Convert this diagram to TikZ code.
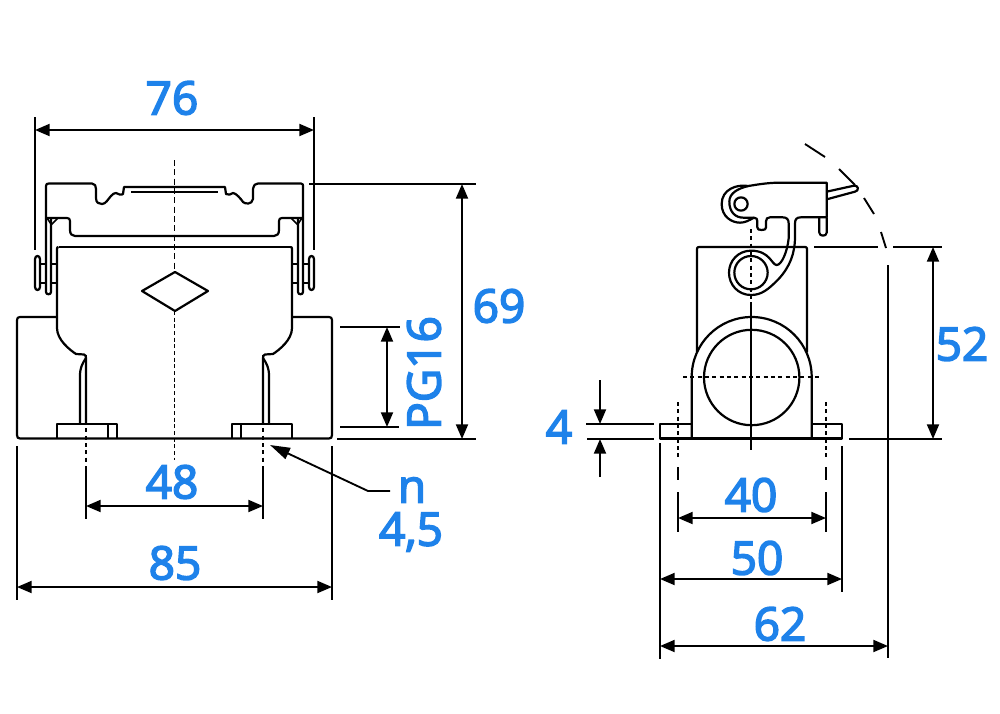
\documentclass[tikz,border=0pt]{standalone}
\usepackage{fontspec}
\setmainfont{Open Sans}[FakeBold=3.6]
\usetikzlibrary{arrows.meta}
\definecolor{dimblue}{HTML}{1E82EA}
\tikzset{
  x=0.75pt,y=-0.75pt,
  part/.style={line width=1.65pt,line join=round,black},
  thin part/.style={line width=1.2pt,black},
  cdash/.style={line width=1.1pt,dash pattern=on 4.5pt off 2.5pt},
  fdash/.style={line width=1.4pt,dash pattern=on 3pt off 2.5pt},
  ext/.style={line width=1.4pt},
  dimline/.style={line width=1.4pt,{Triangle[length=11pt,width=9pt]}-{Triangle[length=11pt,width=9pt]}},
  dimone/.style={line width=1.4pt,-{Triangle[length=11pt,width=9pt]}},
  leader/.style={line width=1.4pt,-{Triangle[length=15pt,width=9pt]}},
  lbl/.style={text=dimblue,font=\fontsize{34.5pt}{36pt}\selectfont,inner sep=0pt},
}
\begin{document}
\begin{tikzpicture}
\useasboundingbox (0,0) rectangle (1000,714);
% ---------- left view ----------
% lid top
\draw[part] (46,218) -- (46,186)
  .. controls (46,184) and (47,183.5) .. (49,183.5) -- (92,183.5)
  .. controls (95,183.5) and (96,186) .. (96,189) -- (96,198)
  .. controls (96,203) and (99,204) .. (102,204)
  .. controls (106,204) and (108,199) .. (111,196)
  .. controls (113,194) and (114,193) .. (116,193)
  .. controls (118,195) and (122,195) .. (123,194)
  -- (124,187) -- (225,187) -- (226,194)
  .. controls (228,195) and (231,195) .. (233,193)
  .. controls (236,193) and (241,199) .. (243,202)
  .. controls (245,204) and (252,205) .. (253,199) -- (253,189)
  .. controls (254,185) and (255,183.5) .. (258,183.5) -- (301,183.5)
  .. controls (303,183.5) and (303,185) .. (303,186) -- (303,218);
\draw[part] (131,192) -- (218,192);
% lid bottom
\draw[part] (46,218) -- (67,218) .. controls (69,218) and (70,219) .. (70,221) -- (70,230)
  .. controls (70,234) and (72,236) .. (75,236) -- (274,236)
  .. controls (277,236) and (279,234) .. (279,230) -- (279,221)
  .. controls (279,219) and (280,218) .. (282,218) -- (303,218);
% hinge arms
\draw[part] (46,218) -- (46,292) .. controls (46,295) and (51,295) .. (51,292) -- (51,218);
\draw[part] (303,218) -- (303,292) .. controls (303,295) and (298,295) .. (298,292) -- (298,218);
\draw[thin part] (51,225) -- (58,218) (47,218) -- (51,224);
\draw[thin part] (298,225) -- (291,218) (302,218) -- (298,224);
% pins
\draw[part] (35,259) .. controls (35,255) and (40,255) .. (40,259) -- (40,287) .. controls (40,291) and (35,291) .. (35,287) -- cycle;
\draw[part] (309,259) .. controls (309,255) and (314,255) .. (314,259) -- (314,287) .. controls (314,291) and (309,291) .. (309,287) -- cycle;
\draw[part] (40,264) -- (46,264) (40,283) -- (46,283) (51,264) -- (57,264) (51,283) -- (57,283);
\draw[part] (303,264) -- (309,264) (303,283) -- (309,283) (292,264) -- (298,264) (292,283) -- (298,283);
% body and flange
\draw[part] (17,320) .. controls (17,318) and (18,317) .. (20,317) -- (57,317);
\draw[part] (292,317) -- (329,317) .. controls (331,317) and (332,318) .. (332,320) -- (332,435)
  .. controls (332,437.5) and (331,438.5) .. (329,438.5) -- (20,438.5)
  .. controls (18,438.5) and (17,437.5) .. (17,435) -- (17,320);
\draw[part] (58.5,247) -- (290.5,247);
\draw[part] (58.5,247) .. controls (57.5,247) and (57,247.5) .. (57,249) -- (57,328)
  .. controls (57,340) and (70,350) .. (76,354) -- (84,354.5) .. controls (85.5,355) and (86,356) .. (86,358) -- (86,424);
\draw[part] (290.5,247) .. controls (291.5,247) and (292,247.5) .. (292,249) -- (292,328)
  .. controls (292,340) and (279,350) .. (273,354) -- (265,354.5) .. controls (263.5,355) and (263,356) .. (263,358) -- (263,424);
\draw[part] (86,358) .. controls (82,364) and (80,368) .. (80,376) -- (80,424);
\draw[part] (263,358) .. controls (267,364) and (269,368) .. (269,376) -- (269,424);
% feet
\draw[part] (57,438.5) -- (57,424) -- (117,424) -- (117,438.5) (108,424) -- (108,438.5);
\draw[part] (292,438.5) -- (292,424) -- (232,424) -- (232,438.5) (241,424) -- (241,438.5);
% diamond
\draw[part] (175,272) -- (208,291) -- (175,311) -- (142,291) -- cycle;
% center lines
\draw[cdash] (174.5,160) -- (174.5,272);
\draw[cdash,dash pattern=on 3pt off 2pt] (174.5,311) -- (174.5,460);
\draw[fdash] (86,355) -- (86,463) (263,355) -- (263,463);
% ---------- right view ----------
\draw[part] (697,352) -- (697,249) .. controls (697,247.5) and (697.5,247) .. (699,247) -- (805,247)
  .. controls (806.5,247) and (807,247.5) .. (807,249) -- (807,352);
\draw[part] (691.7,438.5) -- (691.7,377) arc[start angle=180,end angle=360,radius=60] -- (811.7,438.5);
\draw[part] (751.7,377.5) circle[radius=47.7];
\draw[part] (660,424) rectangle (691.7,438.5) (811.7,424) rectangle (842,438.5);
\draw[part] (660,438.5) -- (842,438.5);
\draw[ext] (751,306) -- (751,450);
\draw[fdash] (751,229) -- (751,306);
\draw[fdash] (683,377) -- (820,377);
\draw[fdash] (678,402) -- (678,458) (826,402) -- (826,458);
\draw[ext] (678,467) -- (678,480) (826,467) -- (826,480);
% hook, drawn at 3x in a local frame
\begin{scope}[shift={(680,130)},x=0.25pt,y=-0.25pt]
  \draw[part] (205,168) .. controls (172,176) and (148,190) .. (148,215)
     .. controls (148,245) and (165,263) .. (190,263) -- (222,263)
     .. controls (230,263) and (232,268) .. (232,274) -- (232,292)
     .. controls (232,298) and (236,300) .. (245,300)
     .. controls (254,300) and (258,298) .. (258,292) -- (258,274)
     .. controls (258,266) and (262,262) .. (270,262) -- (308,262)
     .. controls (320,262) and (326,268) .. (326,280) -- (326,325)
     .. controls (322,365) and (305,405) .. (290,405)
     .. controls (275,405) and (270,362) .. (213,362)
     .. controls (175,362) and (147,392) .. (147,428)
     .. controls (147,465) and (175,495) .. (213,495)
     .. controls (245,495) and (265,478) .. (295,448)
     .. controls (330,410) and (345,370) .. (345,320) -- (345,280)
     .. controls (345,268) and (350,262) .. (362,262) -- (440,262)
     -- (440,158) -- (300,158)
     .. controls (260,158) and (225,165) .. (205,168) -- cycle;
  \draw[part] (205,168) .. controls (170,162) and (125,178) .. (125,222)
     .. controls (125,260) and (155,278) .. (180,278)
     .. controls (195,278) and (205,272) .. (222,263);
  \draw[part] (183,222) circle[radius=20];
  \draw[part] (213,428) circle[radius=50];
  \draw[part] (418,262) -- (418,308) .. controls (418,320) and (440,320) .. (440,308) -- (440,262);
  \draw[part] (440,185) -- (522,167) .. controls (536,165) and (538,183) .. (525,185) -- (440,208);
\end{scope}
% swing arc
\draw[ext] (805,144) -- (825,157) (839,169) -- (855,185) (864,198) -- (874,214) (881,232) -- (886,248);
% ---------- extension lines ----------
\coordinate (a76) at (35,130); \coordinate (b76) at (314,130);
\coordinate (a69) at (462,184); \coordinate (b69) at (462,439);
\coordinate (aPG) at (387,327); \coordinate (bPG) at (387,427);
\coordinate (a48) at (86,506); \coordinate (b48) at (263,506);
\coordinate (a85) at (17,587); \coordinate (b85) at (332,587);
\coordinate (a52) at (933,247); \coordinate (b52) at (933,439);
\coordinate (a40) at (678,518); \coordinate (b40) at (826,518);
\coordinate (a50) at (660,579); \coordinate (b50) at (842,579);
\coordinate (a62) at (660,646); \coordinate (b62) at (888,646);
\coordinate (u4) at (600,380); \coordinate (v4) at (600,424);
\coordinate (w4) at (600,477); \coordinate (z4) at (600,439);
\coordinate (ln) at (390,491); \coordinate (lk) at (368,491); \coordinate (lt) at (270,445);
\draw[ext] (35,117) -- (35,250) (314,117) -- (314,250);
\draw[ext] (309,184) -- (476,184) (337,439) -- (476,439);
\draw[ext] (340,327) -- (400,327) (340,427) -- (399,427);
\draw[ext] (86,466) -- (86,519) (263,466) -- (263,519);
\draw[ext] (17,446) -- (17,600) (332,446) -- (332,600);
\draw[ext] (814,247) -- (878,247) (893,247) -- (942,247) (849,439) -- (942,439);
\draw[ext] (586,424) -- (654,424) (587,439) -- (654,439);
\draw[ext] (678,492) -- (678,532) (826,492) -- (826,532);
\draw[ext] (660,443) -- (660,659) (842,446) -- (842,592);
\draw[ext] (888,265) -- (888,658);
% ---------- dimensions ----------
\draw[dimline] (a76) -- (b76);
\draw[dimline] (a69) -- (b69);
\draw[dimline] (aPG) -- (bPG);
\draw[dimline] (a48) -- (b48);
\draw[dimline] (a85) -- (b85);
\draw[dimline] (a52) -- (b52);
\draw[dimline] (a40) -- (b40);
\draw[dimline] (a50) -- (b50);
\draw[dimline] (a62) -- (b62);
\draw[dimone] (u4) -- (v4);
\draw[dimone] (w4) -- (z4);
\draw[leader] (ln) -- (lk) -- (lt);
% ---------- labels ----------
\node[lbl] (t76) at (172,98) {76};
\node[lbl] (t69) at (499,306) {69};
\node[lbl,rotate=90] (tPG) at (424,373) {PG16};
\node[lbl] (t48) at (172,482) {48};
\node[lbl] (t85) at (175,563) {85};
\node[lbl] (tn) at (412,490) {n};
\node[lbl] (t45) at (411,532) {4,5};
\node[lbl] (t4) at (559,427) {4};
\node[lbl] (t40) at (751,495) {40};
\node[lbl] (t50) at (757,558) {50};
\node[lbl] (t62) at (780,624) {62};
\node[lbl] (t52) at (962,344) {52};
\end{tikzpicture}
\end{document}
